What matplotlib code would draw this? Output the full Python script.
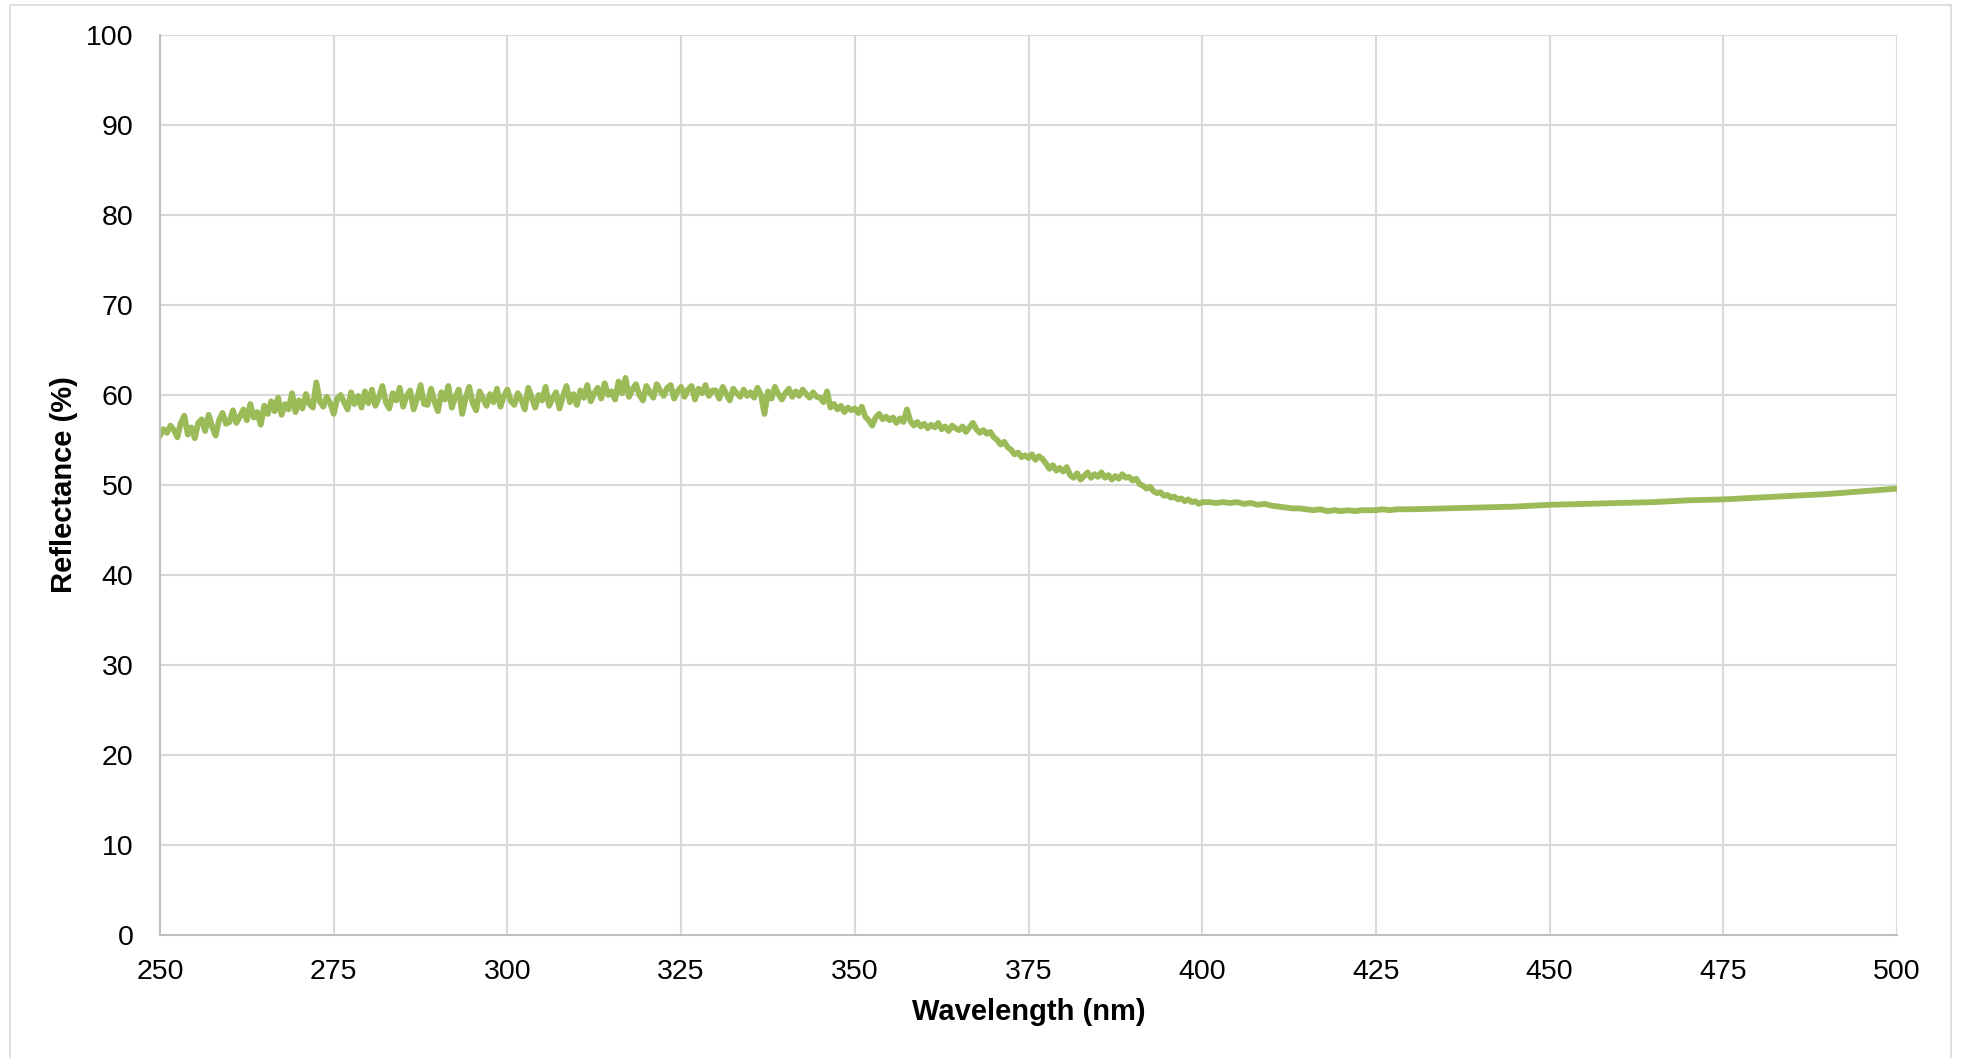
import numpy as np
import matplotlib.pyplot as plt
from matplotlib.patches import Rectangle

# wavelength grid (nm): fine where the scan is noisy, coarser where it is smooth
wl_fine = np.arange(250, 400.01, 0.5)
wl_mid = np.arange(401, 431, 1)
wl_tail = np.arange(435, 501, 5)

# reflectance (%)
r_fine = [
    55.5, 56.2, 55.8, 56.6, 56.1, 55.3, 56.9, 57.7, 55.6, 56.4,  # 250
    55.2, 56.9, 57.3, 56.0, 57.8, 56.5, 55.5, 57.2, 58.0, 56.8,  # 255
    57.0, 58.3, 56.9, 57.6, 58.4, 57.2, 59.0, 57.5, 58.1, 56.7,  # 260
    58.8, 57.9, 59.3, 58.2, 59.7, 57.8, 59.0, 58.4, 60.2, 58.1,  # 265
    59.4, 58.5, 60.1, 59.0, 58.6, 61.4, 59.3, 58.7, 59.8, 59.1,  # 270
    57.9, 59.6, 60.0, 59.2, 58.4, 60.3, 59.0, 59.9, 58.6, 60.4,  # 275
    59.1, 60.6, 58.8, 59.7, 61.0, 59.2, 58.5, 60.2, 59.4, 60.8,  # 280
    58.7, 59.9, 60.5, 58.4, 59.6, 61.1, 59.0, 58.9, 60.7, 59.3,  # 285
    58.2, 60.3, 59.5, 61.0, 58.6, 59.8, 60.6, 57.9, 59.7, 60.9,  # 290
    59.1, 58.3, 60.4, 59.6, 58.8, 60.1, 59.2, 60.7, 58.7, 59.9,  # 295
    60.6, 59.3, 58.9, 60.2, 59.5, 58.4, 60.8, 59.7, 58.6, 60.0,  # 300
    59.4, 60.9, 58.8, 59.6, 60.3, 58.5, 59.9, 61.0, 59.2, 60.1,  # 305
    58.9, 60.5, 59.7, 61.1, 59.3, 60.2, 60.8, 59.6, 61.3, 60.0,  # 310
    60.4, 59.5, 61.5, 60.2, 61.9, 59.8, 60.6, 61.2, 60.0, 59.4,  # 315
    61.0, 60.3, 59.7, 61.2, 60.5, 59.9, 60.8, 61.1, 59.6, 60.4,  # 320
    60.9, 59.8, 60.6, 61.0, 59.5, 60.7, 60.2, 61.1, 59.9, 60.5,  # 325
    60.5, 59.6, 60.9, 60.1, 59.4, 60.7, 60.2, 59.8, 60.6, 59.9,  # 330
    60.3, 59.7, 60.8, 60.0, 57.9, 60.4, 59.6, 60.9, 60.1, 59.5,  # 335
    60.2, 60.7, 59.8, 60.4, 59.9, 60.6, 60.1, 59.7, 60.3, 59.8,  # 340
    59.7, 59.2, 60.4, 58.6, 59.0, 58.4, 58.8, 58.1, 58.6, 58.3,  # 345
    58.5, 58.0, 58.7, 57.6, 57.2, 56.6, 57.5, 57.9, 57.3, 57.6,  # 350
    57.2, 57.5, 56.9, 57.4, 57.0, 58.4, 57.1, 56.6, 57.0, 56.5,  # 355
    56.8, 56.3, 56.7, 56.4, 56.9, 56.2, 56.5, 56.0, 56.6, 56.3,  # 360
    56.1, 56.5, 55.9, 56.4, 56.9, 56.2, 55.8, 56.1, 55.7, 55.9,  # 365
    55.3, 55.0, 54.5, 54.8, 54.2, 53.9, 53.4, 53.6, 53.1, 53.3,  # 370
    53.0, 53.4, 52.8, 53.2, 52.9, 52.4, 51.8, 52.2, 51.6, 51.9,  # 375
    51.5, 52.0, 51.1, 50.8, 51.3, 50.6, 51.0, 51.4, 50.8, 51.2,  # 380
    50.9, 51.4, 50.8, 51.1, 50.6, 51.0, 50.7, 51.2, 50.8, 50.9,  # 385
    50.5, 50.7, 50.1, 49.9, 49.6, 49.8, 49.3, 49.1, 49.2, 48.8,  # 390
    48.9, 48.6, 48.7, 48.4, 48.5, 48.2, 48.4, 48.1, 48.2, 47.9,  # 395
    48.1,                                                        # 400
]
r_mid = [
    48.1, 48.0, 48.1, 48.0, 48.1, 47.9, 48.0, 47.8, 47.9, 47.7,  # 401
    47.6, 47.5, 47.4, 47.4, 47.3, 47.2, 47.3, 47.1, 47.2, 47.1,  # 411
    47.2, 47.1, 47.2, 47.2, 47.2, 47.3, 47.2, 47.3, 47.3, 47.3,  # 421
]
r_tail = [47.4, 47.5, 47.6, 47.8, 47.9, 48.0, 48.1,
          48.3, 48.4, 48.6, 48.8, 49.0, 49.3, 49.6]

wavelength = np.concatenate([wl_fine, wl_mid, wl_tail])
reflectance = np.array(r_fine + r_mid + r_tail)

plt.rcParams['font.family'] = ['Liberation Sans', 'DejaVu Sans']

fig = plt.figure(figsize=(19.61, 10.58), dpi=100)
ax = fig.add_axes([160/1961, 123/1058, 1737/1961, 900/1058])

# outer chart border
fig.patches.append(Rectangle((10/1961, -0.01), 1941/1961, 1 - 5/1058 + 0.01,
                             transform=fig.transFigure, fill=False,
                             edgecolor='#d9d9d9', lw=1.2))

ax.plot(wavelength, reflectance, color='#9bbb59', lw=4.2, solid_joinstyle='round')

ax.set_xlim(250, 500)
ax.set_ylim(0, 100)
ax.set_xticks(np.arange(250, 501, 25))
ax.set_yticks(np.arange(0, 101, 10))
ax.grid(True, color='#d9d9d9', lw=1.5)
ax.set_axisbelow(True)
for s in ['top', 'right']:
    ax.spines[s].set_visible(False)
for s in ['left', 'bottom']:
    ax.spines[s].set_color('#bfbfbf')
    ax.spines[s].set_linewidth(1.5)
ax.tick_params(axis='both', length=0, labelsize=20.5, colors='black')
ax.tick_params(axis='y', pad=19)
ax.tick_params(axis='x', pad=17)

ax.set_xlabel('Wavelength (nm)', fontsize=21, fontweight='bold', labelpad=10)
ax.set_ylabel('Reflectance (%)', fontsize=21, fontweight='bold', labelpad=6)

fig.savefig('out.png', dpi=100)
